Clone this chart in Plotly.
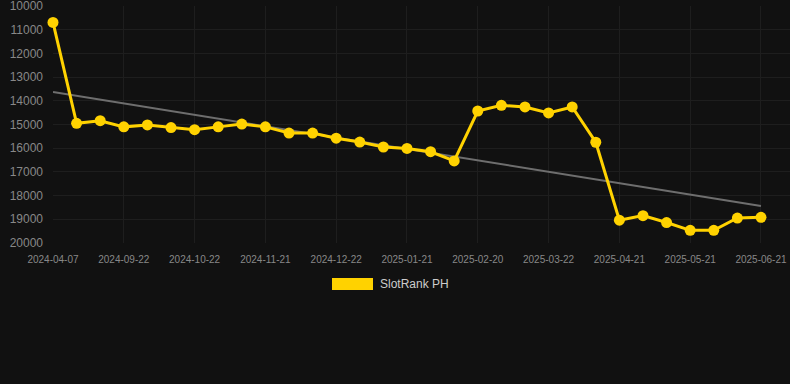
import plotly.graph_objects as go

dates = [
    "2024-04-07", "2024-09-02", "2024-09-12", "2024-09-22", "2024-10-02",
    "2024-10-12", "2024-10-22", "2024-11-01", "2024-11-11", "2024-11-21",
    "2024-12-01", "2024-12-11", "2024-12-22", "2025-01-01", "2025-01-11",
    "2025-01-21", "2025-01-31", "2025-02-10", "2025-02-20", "2025-03-02",
    "2025-03-12", "2025-03-22", "2025-04-01", "2025-04-11", "2025-04-21",
    "2025-05-01", "2025-05-11", "2025-05-21", "2025-05-31", "2025-06-10",
    "2025-06-21",
]
ranks = [
    10690, 14950, 14840, 15100, 15020, 15130, 15220, 15100, 14980, 15100,
    15360, 15360, 15580, 15740, 15950, 16010, 16150, 16540, 14430, 14190,
    14260, 14510, 14260, 15750, 19040, 18850, 19140, 19470, 19470, 18950,
    18920,
]
trend_x = ["2024-04-07", "2025-06-21"]
trend_y = [13630, 18440]
tick_labels = [
    "2024-04-07", "2024-09-22", "2024-10-22", "2024-11-21", "2024-12-22",
    "2025-01-21", "2025-02-20", "2025-03-22", "2025-04-21", "2025-05-21",
    "2025-06-21",
]
y_ticks = [10000, 11000, 12000, 13000, 14000, 15000, 16000, 17000, 18000, 19000, 20000]
y_tick_text = [str(v) for v in y_ticks]
series_name = "SlotRank PH"

YELLOW = "#FFD200"
BG = "#111111"
GRID = "#1e1e1e"

fig = go.Figure()
fig.add_trace(go.Scatter(
    x=trend_x, y=trend_y, mode="lines",
    line=dict(color="#6e6e6e", width=2), showlegend=False, hoverinfo="skip",
))
fig.add_trace(go.Scatter(
    x=dates, y=ranks, mode="lines+markers", name=series_name,
    line=dict(color=YELLOW, width=3),
    marker=dict(color=YELLOW, size=11),
    showlegend=False, cliponaxis=False,
))

# legend drawn manually (rectangle swatch + label)
fig.add_shape(type="rect", xref="paper", yref="paper",
              x0=(332 - 53) / 737, x1=(373 - 53) / 737,
              y0=(243 - 290) / 237, y1=(243 - 278) / 237,
              fillcolor=YELLOW, line=dict(width=0))
fig.add_annotation(text=series_name, xref="paper", yref="paper",
                   x=(378 - 53) / 737, y=(243 - 284) / 237,
                   xanchor="left", yanchor="middle", showarrow=False,
                   font=dict(color="#cccccc", size=12, family="Arial, Liberation Sans, sans-serif"))

fig.update_layout(
    width=790, height=384,
    margin=dict(l=53, r=0, t=6, b=141),
    paper_bgcolor=BG, plot_bgcolor=BG,
    font=dict(family="Arial, Liberation Sans, sans-serif", color="#888888"),
    xaxis=dict(
        type="category", categoryorder="array", categoryarray=dates,
        range=[0, 31.23], tickmode="array", tickvals=tick_labels, ticktext=tick_labels,
        showgrid=True, gridcolor=GRID, gridwidth=1, zeroline=False,
        showline=False, tickfont=dict(size=10, color="#888888"),
        ticks="", ticklabelstandoff=9, ticklabeloverflow="allow",
    ),
    yaxis=dict(
        range=[20005, 9995], tickmode="array", tickvals=y_ticks, ticktext=y_tick_text,
        showgrid=True, gridcolor=GRID, gridwidth=1, zeroline=False,
        showline=False, tickfont=dict(size=12, color="#888888"),
        ticks="", ticklabelstandoff=9, ticklabeloverflow="allow",
    ),
    showlegend=False,
)

fig.write_html(
    "out.html",
    config={"displayModeBar": False},
    post_script="document.body.style.margin='0';document.body.style.background='#111111';",
)
